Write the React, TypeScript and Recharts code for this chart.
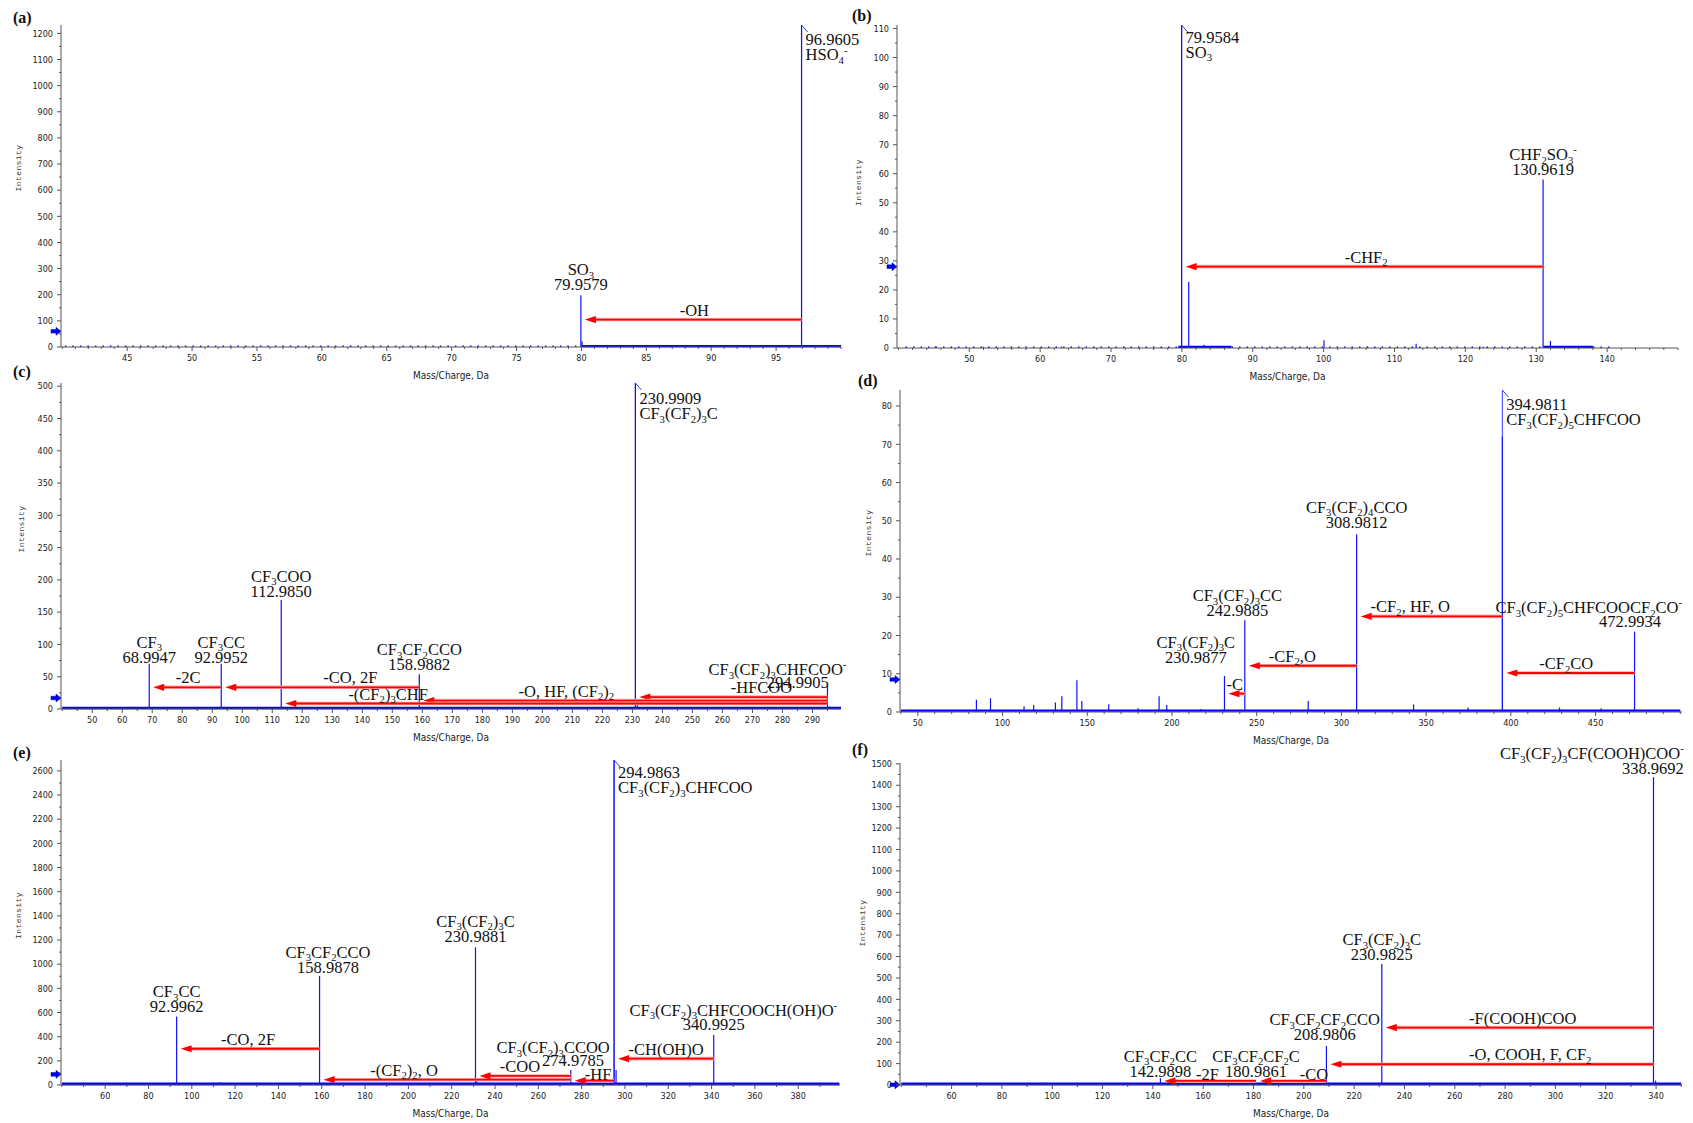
import React from 'react';
import { ComposedChart, ReferenceDot, ReferenceLine, Scatter, XAxis, YAxis } from 'recharts';

type Peak = { mz: number; i: number };
type Tag = { at: number; level: number; lines: string[]; align: 'start' | 'middle' | 'end' };
type Loss = { from: number; to: number; i: number; text: string; at: number; ly?: number };
type Band = { from: number; to: number; level: number; dotted?: boolean };

const BLUE = '#1010ff';
const RED = '#ff0000';
const AXIS = '#555555';
const INK = '#111111';
const SERIF = "'Liberation Serif', 'Times New Roman', serif";
const TICK_FONT = "'DejaVu Sans Condensed', 'Liberation Sans Narrow', 'DejaVu Sans', sans-serif";
const MONO = "'Liberation Mono', 'DejaVu Sans Mono', monospace";
const ANNO = 16.5;
const LINE_GAP = 15;

// (a) HSO4- precursor
const X_TICKS_A = [45, 50, 55, 60, 65, 70, 75, 80, 85, 90, 95];
const Y_TICKS_A = [0, 100, 200, 300, 400, 500, 600, 700, 800, 900, 1000, 1100, 1200];
const PEAKS_A: Peak[] = [
  { mz: 79.9579, i: 198 },
  { mz: 80.05, i: 22 },
  { mz: 96.9605, i: 1232 },
];
const BANDS_A: Band[] = [
  { from: 40.2, to: 80, level: 3, dotted: true },
  { from: 80, to: 100, level: 3 },
];
const TAGS_A: Tag[] = [
  { at: 79.9579, level: 274, lines: ['SO_3', '79.9579'], align: 'middle' },
  { at: 96.9605, level: 1154, lines: ['96.9605', 'HSO_4^-'], align: 'start' },
];
const LOSSES_A: Loss[] = [{ from: 96.9605, to: 79.9579, i: 105, text: '-OH', at: 88.7 }];

// (b) CHF2SO3- precursor
const X_TICKS_B = [50, 60, 70, 80, 90, 100, 110, 120, 130, 140];
const Y_TICKS_B = [0, 10, 20, 30, 40, 50, 60, 70, 80, 90, 100, 110];
const PEAKS_B: Peak[] = [
  { mz: 45.2, i: 0.6 },
  { mz: 52, i: 0.4 },
  { mz: 63, i: 0.5 },
  { mz: 79.9584, i: 111.2 },
  { mz: 80.96, i: 22.7 },
  { mz: 83.1, i: 1.1 },
  { mz: 100.05, i: 2.7 },
  { mz: 106.2, i: 0.5 },
  { mz: 113.05, i: 1.5 },
  { mz: 122.5, i: 0.4 },
  { mz: 130.9619, i: 58 },
  { mz: 132.0, i: 2.4 },
];
const BANDS_B: Band[] = [
  { from: 41, to: 79.5, level: 0.3, dotted: true },
  { from: 79.5, to: 87, level: 0.4 },
  { from: 87, to: 131, level: 0.3, dotted: true },
  { from: 131, to: 138, level: 0.4 },
  { from: 138, to: 141, level: 0.3, dotted: true },
];
const TAGS_B: Tag[] = [
  { at: 79.9584, level: 105.1, lines: ['79.9584', 'SO_3'], align: 'start' },
  { at: 130.9619, level: 64.7, lines: ['CHF_2SO_3^-', '130.9619'], align: 'middle' },
];
const LOSSES_B: Loss[] = [{ from: 130.9619, to: 79.9584, i: 28, text: '-CHF_2', at: 106 }];

// (c) CF3(CF2)3CHFCOO- precursor
const X_TICKS_C = [50, 60, 70, 80, 90, 100, 110, 120, 130, 140, 150, 160, 170, 180, 190, 200, 210, 220, 230, 240, 250, 260, 270, 280, 290];
const Y_TICKS_C = [0, 50, 100, 150, 200, 250, 300, 350, 400, 450, 500];
const PEAKS_C: Peak[] = [
  { mz: 63, i: 3.6 },
  { mz: 68.9947, i: 70 },
  { mz: 92.9952, i: 70 },
  { mz: 96.8, i: 2 },
  { mz: 112.985, i: 169 },
  { mz: 158.9882, i: 54 },
  { mz: 181, i: 3 },
  { mz: 230.9909, i: 505 },
  { mz: 231.6, i: 10 },
  { mz: 275.5, i: 2 },
  { mz: 294.9905, i: 36 },
  { mz: 295.8, i: 4 },
];
const BANDS_C: Band[] = [{ from: 40, to: 299.5, level: 1.5 }];
const TAGS_C: Tag[] = [
  { at: 68.9947, level: 95, lines: ['CF_3', '68.9947'], align: 'middle' },
  { at: 92.9952, level: 95, lines: ['CF_3CC', '92.9952'], align: 'middle' },
  { at: 112.985, level: 197, lines: ['CF_3COO', '112.9850'], align: 'middle' },
  { at: 158.9882, level: 83.7, lines: ['CF_3CF_2CCO', '158.9882'], align: 'middle' },
  { at: 230.9909, level: 472.4, lines: ['230.9909', 'CF_3(CF_2)_3C'], align: 'start' },
  { at: 254, level: 52.7, lines: ['CF_3(CF_2)_3CHFCOO^-'], align: 'start' },
  { at: 295.4, level: 32.6, lines: ['294.9905'], align: 'end' },
];
const LOSSES_C: Loss[] = [
  { from: 158.9882, to: 92.9952, i: 33.6, text: '-CO, 2F', at: 136 },
  { from: 92.9952, to: 68.9947, i: 33.6, text: '-2C', at: 82 },
  { from: 294.9905, to: 230.9909, i: 18.5, text: '-HFCOO', at: 273 },
  { from: 294.9905, to: 158.9882, i: 13, text: '-O, HF, (CF_2)_2', at: 208 },
  { from: 294.9905, to: 112.985, i: 8.5, text: '-(CF_2)_3CHF', at: 148.6 },
];

// (d) CF3(CF2)5CHFCOOCF2CO- precursor
const X_TICKS_D = [50, 100, 150, 200, 250, 300, 350, 400, 450];
const Y_TICKS_D = [0, 10, 20, 30, 40, 50, 60, 70, 80];
const PEAKS_D: Peak[] = [
  { mz: 84.6, i: 3.2 },
  { mz: 92.9, i: 3.6 },
  { mz: 112.7, i: 1.5 },
  { mz: 118.4, i: 1.8 },
  { mz: 131.2, i: 2.5 },
  { mz: 135, i: 4.1 },
  { mz: 143.9, i: 8.3 },
  { mz: 146.8, i: 2.9 },
  { mz: 162.7, i: 2 },
  { mz: 180, i: 1 },
  { mz: 192.4, i: 4.1 },
  { mz: 196.9, i: 1.8 },
  { mz: 217, i: 0.8 },
  { mz: 230.9877, i: 9.4 },
  { mz: 242.9885, i: 24 },
  { mz: 280.4, i: 2.9 },
  { mz: 308.9812, i: 46.5 },
  { mz: 342.6, i: 2 },
  { mz: 374.8, i: 1.2 },
  { mz: 394.9811, i: 72 },
  { mz: 428.7, i: 1.2 },
  { mz: 453.3, i: 1 },
  { mz: 472.9934, i: 21 },
];
const BANDS_D: Band[] = [{ from: 40, to: 500, level: 0.35 }];
const TAGS_D: Tag[] = [
  { at: 394.9811, level: 79, lines: ['394.9811', 'CF_3(CF_2)_5CHFCOO'], align: 'start' },
  { at: 308.9812, level: 52.1, lines: ['CF_3(CF_2)_4CCO', '308.9812'], align: 'middle' },
  { at: 238.6, level: 29, lines: ['CF_3(CF_2)_3CC', '242.9885'], align: 'middle' },
  { at: 214.1, level: 16.8, lines: ['CF_3(CF_2)_3C', '230.9877'], align: 'middle' },
  { at: 501, level: 25.9, lines: ['CF_3(CF_2)_5CHFCOOCF_2CO^-'], align: 'end' },
  { at: 470.3, level: 22.3, lines: ['472.9934'], align: 'middle' },
];
const LOSSES_D: Loss[] = [
  { from: 394.9811, to: 308.9812, i: 25, text: '-CF_2, HF, O', at: 340.6 },
  { from: 308.9812, to: 242.9885, i: 12.1, text: '-CF_2,O', at: 271 },
  { from: 242.9885, to: 230.9877, i: 4.8, text: '-C', at: 237 },
  { from: 472.9934, to: 394.9811, i: 10.2, text: '-CF_2CO', at: 432.7 },
];

// (e) CF3(CF2)3CHFCOOCH(OH)O- precursor
const X_TICKS_E = [60, 80, 100, 120, 140, 160, 180, 200, 220, 240, 260, 280, 300, 320, 340, 360, 380];
const Y_TICKS_E = [0, 200, 400, 600, 800, 1000, 1200, 1400, 1600, 1800, 2000, 2200, 2400, 2600];
const PEAKS_E: Peak[] = [
  { mz: 92.9962, i: 566 },
  { mz: 112.9, i: 22 },
  { mz: 158.9878, i: 903 },
  { mz: 180.9, i: 12 },
  { mz: 208.98, i: 12 },
  { mz: 230.9881, i: 1140 },
  { mz: 231.6, i: 40 },
  { mz: 274.9785, i: 124 },
  { mz: 294.9863, i: 2690 },
  { mz: 295.9, i: 125 },
  { mz: 340.9925, i: 414 },
];
const BANDS_E: Band[] = [{ from: 40, to: 399, level: 10 }];
const TAGS_E: Tag[] = [
  { at: 92.9962, level: 726, lines: ['CF_3CC', '92.9962'], align: 'middle' },
  { at: 162.9, level: 1053.6, lines: ['CF_3CF_2CCO', '158.9878'], align: 'middle' },
  { at: 230.9881, level: 1310, lines: ['CF_3(CF_2)_3C', '230.9881'], align: 'middle' },
  { at: 294.9863, level: 2538, lines: ['294.9863', 'CF_3(CF_2)_3CHFCOO'], align: 'start' },
  { at: 398, level: 573.6, lines: ['CF_3(CF_2)_3CHFCOOCH(OH)O^-'], align: 'end' },
  { at: 340.9925, level: 455, lines: ['340.9925'], align: 'middle' },
  { at: 293, level: 262, lines: ['CF_3(CF_2)_3CCOO'], align: 'end' },
  { at: 276, level: 157, lines: ['274.9785'], align: 'middle' },
];
const LOSSES_E: Loss[] = [
  { from: 158.9878, to: 92.9962, i: 300, text: '-CO, 2F', at: 126 },
  { from: 274.9785, to: 158.9878, i: 44, text: '-(CF_2)_2, O', at: 198 },
  { from: 274.9785, to: 230.9881, i: 75, text: '-COO', at: 251.5 },
  { from: 294.9863, to: 274.9785, i: 36, text: '-HF', at: 287.6, ly: 38 },
  { from: 340.9925, to: 294.9863, i: 218, text: '-CH(OH)O', at: 319 },
];

// (f) CF3(CF2)3CF(COOH)COO- precursor
const X_TICKS_F = [60, 80, 100, 120, 140, 160, 180, 200, 220, 240, 260, 280, 300, 320, 340];
const Y_TICKS_F = [0, 100, 200, 300, 400, 500, 600, 700, 800, 900, 1000, 1100, 1200, 1300, 1400, 1500];
const PEAKS_F: Peak[] = [
  { mz: 97, i: 10 },
  { mz: 142.9898, i: 31 },
  { mz: 180.9861, i: 9 },
  { mz: 208.9806, i: 182 },
  { mz: 217, i: 5 },
  { mz: 230.9825, i: 565 },
  { mz: 338.9692, i: 1437 },
  { mz: 339.8, i: 20 },
];
const BANDS_F: Band[] = [{ from: 40, to: 350, level: 5 }];
const TAGS_F: Tag[] = [
  { at: 142.9898, level: 108.8, lines: ['CF_3CF_2CC', '142.9898'], align: 'middle' },
  { at: 180.9861, level: 108.8, lines: ['CF_3CF_2CF_2C', '180.9861'], align: 'middle' },
  { at: 208.3, level: 280, lines: ['CF_3CF_2CF_2CCO', '208.9806'], align: 'middle' },
  { at: 230.9825, level: 654, lines: ['CF_3(CF_2)_3C', '230.9825'], align: 'middle' },
  { at: 351, level: 1523, lines: ['CF_3(CF_2)_3CF(COOH)COO^-', '338.9692'], align: 'end' },
];
const LOSSES_F: Loss[] = [
  { from: 338.9692, to: 230.9825, i: 268, text: '-F(COOH)COO', at: 287 },
  { from: 338.9692, to: 208.9806, i: 97, text: '-O, COOH, F, CF_2', at: 290 },
  { from: 208.9806, to: 180.9861, i: 19, text: '-CO', at: 204, ly: 24 },
  { from: 180.9861, to: 142.9898, i: 19, text: '-2F', at: 161.7, ly: 22 },
];

type PanelCfg = {
  name: string;
  left: number;
  top: number;
  width: number;
  height: number;
  mTop: number;
  mRight: number;
  yAxisW: number;
  xAxisH: number;
  xDomain: [number, number];
  yDomain: [number, number];
  xTicks: number[];
  xMinor: number;
  yTicks: number[];
  yMinor: number;
  peaks: Peak[];
  tags: Tag[];
  losses: Loss[];
  bands: Band[];
  precursor?: number;
  threshold: number;
  letter: [number, number];
  yTitle: [number, number];
  baseW: number;
};

const PANELS: PanelCfg[] = [
  {
    name: '(a)', left: 0, top: 0, width: 870, height: 385, mTop: 25, mRight: 29, yAxisW: 61, xAxisH: 38,
    xDomain: [39.9, 100], yDomain: [0, 1232], xTicks: X_TICKS_A, xMinor: 1, yTicks: Y_TICKS_A, yMinor: 50,
    peaks: PEAKS_A, tags: TAGS_A, losses: LOSSES_A, bands: BANDS_A, precursor: 96.9605, threshold: 60,
    letter: [13, 23], yTitle: [-43, -18], baseW: 2.2,
  },
  {
    name: '(b)', left: 846, top: 0, width: 847, height: 385, mTop: 25, mRight: 15, yAxisW: 51, xAxisH: 37,
    xDomain: [39.8, 150], yDomain: [0, 111.2], xTicks: X_TICKS_B, xMinor: 2, yTicks: Y_TICKS_B, yMinor: 5,
    peaks: PEAKS_B, tags: TAGS_B, losses: LOSSES_B, bands: BANDS_B, precursor: 79.9584, threshold: 28,
    letter: [852, 21], yTitle: [-39, -4], baseW: 2.2,
  },
  {
    name: '(c)', left: 0, top: 370, width: 870, height: 375, mTop: 13, mRight: 29, yAxisW: 61, xAxisH: 36,
    xDomain: [39.6, 299.5], yDomain: [0, 505], xTicks: X_TICKS_C, xMinor: 5, yTicks: Y_TICKS_C, yMinor: 25,
    peaks: PEAKS_C, tags: TAGS_C, losses: LOSSES_C, bands: BANDS_C, precursor: 230.9909, threshold: 17,
    letter: [13, 377], yTitle: [-40, -17], baseW: 2.6,
  },
  {
    name: '(d)', left: 846, top: 370, width: 847, height: 375, mTop: 20, mRight: 11, yAxisW: 54, xAxisH: 33,
    xDomain: [39.5, 501], yDomain: [0, 84.2], xTicks: X_TICKS_D, xMinor: 10, yTicks: Y_TICKS_D, yMinor: 5,
    peaks: PEAKS_D, tags: TAGS_D, losses: LOSSES_D, bands: BANDS_D, precursor: 394.9811, threshold: 8.5,
    letter: [858, 386], yTitle: [-32, -18], baseW: 2.2,
  },
  {
    name: '(e)', left: 0, top: 745, width: 870, height: 378, mTop: 15, mRight: 30, yAxisW: 61, xAxisH: 38,
    xDomain: [39.6, 399.3], yDomain: [0, 2690], xTicks: X_TICKS_E, xMinor: 10, yTicks: Y_TICKS_E, yMinor: 100,
    peaks: PEAKS_E, tags: TAGS_E, losses: LOSSES_E, bands: BANDS_E, precursor: 294.9863, threshold: 88,
    letter: [13, 758], yTitle: [-43, -7], baseW: 2.8,
  },
  {
    name: '(f)', left: 846, top: 730, width: 847, height: 393, mTop: 33, mRight: 11, yAxisW: 54, xAxisH: 38,
    xDomain: [39.5, 350.3], yDomain: [0, 1504], xTicks: X_TICKS_F, xMinor: 10, yTicks: Y_TICKS_F, yMinor: 50,
    peaks: PEAKS_F, tags: TAGS_F, losses: LOSSES_F, bands: BANDS_F, threshold: 1,
    letter: [852, 755], yTitle: [-38, -1], baseW: 2.8,
  },
];

// major ticks plus the small unlabelled ones in between
function withMinors(domain: [number, number], majors: number[], step: number) {
  const out: number[] = [];
  const start = Math.ceil(domain[0] / step) * step;
  for (let v = start; v <= domain[1] + 1e-9; v += step) out.push(Math.round(v * 1000) / 1000);
  majors.forEach((m) => { if (!out.includes(m)) out.push(m); });
  return out.sort((p, q) => p - q);
}

// "_x" -> subscript, "^x" -> superscript
function chem(s: string, size: number) {
  const runs: { kind: number; text: string }[] = [];
  for (let k = 0; k < s.length; k++) {
    let kind = 0;
    let ch = s[k];
    if ((ch === '_' || ch === '^') && k + 1 < s.length) {
      kind = ch === '_' ? 1 : 2;
      ch = s[++k];
    }
    const last = runs[runs.length - 1];
    if (last && last.kind === kind) last.text += ch;
    else runs.push({ kind, text: ch });
  }
  let cur = 0;
  return runs.map((r, k) => {
    const off = r.kind === 1 ? size * 0.22 : r.kind === 2 ? -size * 0.4 : 0;
    const dy = off - cur;
    cur = off;
    return (
      <tspan key={k} dy={dy} fontSize={r.kind ? size * 0.65 : size}>
        {r.text}
      </tspan>
    );
  });
}

function XTick(props: any) {
  const { x, y, payload, majors } = props;
  const major = majors.includes(payload.value);
  return (
    <g>
      <line x1={x} x2={x} y1={y} y2={y + (major ? 4 : 2)} stroke={AXIS} />
      {major && (
        <text x={x} y={y + 14} textAnchor="middle" fontFamily={TICK_FONT} fontSize={9} fill="#222">
          {payload.value}
        </text>
      )}
    </g>
  );
}

function YTick(props: any) {
  const { x, y, payload, majors } = props;
  const major = majors.includes(payload.value);
  return (
    <g>
      <line x1={x - (major ? 4 : 2)} x2={x} y1={y} y2={y} stroke={AXIS} />
      {major && (
        <text x={x - 8} y={y + 3.2} textAnchor="end" fontFamily={TICK_FONT} fontSize={9} fill="#222">
          {payload.value}
        </text>
      )}
    </g>
  );
}

function TagText({ cx, cy, tag }: { cx: number; cy: number; tag: Tag }) {
  const x = tag.align === 'start' ? cx + 4 : cx;
  return (
    <g>
      {tag.lines.map((line, k) => (
        <text key={k} x={x} y={cy + k * LINE_GAP} textAnchor={tag.align} fontFamily={SERIF} fontSize={ANNO} fill={INK}>
          {chem(line, ANNO)}
        </text>
      ))}
    </g>
  );
}

function LossArrow(props: any) {
  const { x1, x2, y1, loss, ly } = props;
  const tip = x2 + 4;
  const head = 11;
  const lx = x1 + ((loss.at - loss.from) / (loss.to - loss.from)) * (x2 - x1);
  return (
    <g>
      <line x1={x1} x2={tip + head - 1} y1={y1} y2={y1} stroke="#ffa8a8" strokeWidth={3.6} />
      <line x1={x1} x2={tip + head - 1} y1={y1} y2={y1} stroke={RED} strokeWidth={1.8} />
      <polygon points={`${tip},${y1} ${tip + head},${y1 - 3.6} ${tip + head},${y1 + 3.6}`} fill={RED} />
      <text x={lx} y={ly ?? y1 - 4} textAnchor="middle" fontFamily={SERIF} fontSize={ANNO} fill={INK}>
        {chem(loss.text, ANNO)}
      </text>
    </g>
  );
}

function Spectrum({ cfg }: { cfg: PanelCfg }) {
  const xTicks = withMinors(cfg.xDomain, cfg.xTicks, cfg.xMinor);
  const yTicks = withMinors(cfg.yDomain, cfg.yTicks, cfg.yMinor);
  const yTop = cfg.yDomain[1];
  const plotH = cfg.height - cfg.mTop - cfg.xAxisH;
  const pxPerUnit = plotH / (cfg.yDomain[1] - cfg.yDomain[0]);

  return (
    <div style={{ position: 'absolute', left: cfg.left, top: cfg.top }}>
      <ComposedChart
        width={cfg.width}
        height={cfg.height}
        margin={{ top: cfg.mTop, right: cfg.mRight, bottom: 0, left: 0 }}
      >
        <XAxis
          type="number"
          dataKey="mz"
          domain={cfg.xDomain}
          allowDataOverflow
          ticks={xTicks}
          interval={0}
          tickSize={0}
          tickMargin={0}
          tickLine={false}
          axisLine={{ stroke: AXIS }}
          height={cfg.xAxisH}
          tick={(p: any) => <XTick {...p} majors={cfg.xTicks} />}
        />
        <YAxis
          type="number"
          dataKey="i"
          domain={cfg.yDomain}
          allowDataOverflow
          ticks={yTicks}
          interval={0}
          tickSize={0}
          tickMargin={0}
          tickLine={false}
          axisLine={{ stroke: AXIS }}
          width={cfg.yAxisW}
          tick={(p: any) => <YTick {...p} majors={cfg.yTicks} />}
        />

        {cfg.bands.map((b, k) => (
          <ReferenceLine
            key={`band-${k}`}
            segment={[{ x: b.from, y: b.level }, { x: b.to, y: b.level }]}
            stroke="#0000ff"
            strokeWidth={b.dotted ? 1.5 : cfg.baseW}
            strokeDasharray={b.dotted ? '1.5 6' : undefined}
            ifOverflow="visible"
          />
        ))}

        {cfg.precursor !== undefined && (
          <ReferenceLine
            segment={[{ x: cfg.precursor, y: 0 }, { x: cfg.precursor, y: yTop }]}
            stroke="#3a3aff"
            strokeWidth={1}
            ifOverflow="visible"
          />
        )}
        {cfg.precursor !== undefined && (
          <ReferenceDot
            x={cfg.precursor}
            y={yTop}
            r={0}
            ifOverflow="visible"
            shape={(p: any) => <line x1={p.cx} y1={p.cy} x2={p.cx + 6} y2={p.cy + 7} stroke="#3a3aff" strokeWidth={1} />}
          />
        )}

        {cfg.peaks.map((pk, k) => (
          <ReferenceLine
            key={`pk-${k}`}
            segment={[{ x: pk.mz, y: 0 }, { x: pk.mz, y: pk.i }]}
            stroke={BLUE}
            strokeWidth={1.2}
            ifOverflow="visible"
          />
        ))}

        {cfg.losses.map((l, k) => (
          <ReferenceLine
            key={`loss-${k}`}
            segment={[{ x: l.from, y: l.i }, { x: l.to, y: l.i }]}
            ifOverflow="visible"
            shape={(p: any) => (
              <LossArrow
                {...p}
                loss={l}
                ly={l.ly === undefined ? undefined : p.y1 - (l.ly - l.i) * pxPerUnit}
              />
            )}
          />
        ))}

        {cfg.tags.map((t, k) => (
          <ReferenceDot
            key={`tag-${k}`}
            x={t.at}
            y={t.level}
            r={0}
            ifOverflow="visible"
            shape={(p: any) => <TagText cx={p.cx} cy={p.cy} tag={t} />}
          />
        ))}

        <ReferenceDot
          x={cfg.xDomain[0]}
          y={cfg.threshold}
          r={0}
          ifOverflow="visible"
          shape={(p: any) => (
            <path
              d={`M${p.cx - 10},${p.cy - 1.8} L${p.cx - 5},${p.cy - 1.8} L${p.cx - 5},${p.cy - 4} L${p.cx},${p.cy} L${p.cx - 5},${p.cy + 4} L${p.cx - 5},${p.cy + 1.8} L${p.cx - 10},${p.cy + 1.8} Z`}
              fill="#0000ff"
              stroke="#00008b"
              strokeWidth={0.5}
            />
          )}
        />

        <Scatter data={cfg.peaks} dataKey="i" shape={() => <g />} isAnimationActive={false} />
      </ComposedChart>
    </div>
  );
}

function Titles() {
  return (
    <svg
      width={1693}
      height={1123}
      style={{ position: 'absolute', left: 0, top: 0, pointerEvents: 'none' }}
    >
      {PANELS.map((p) => {
        const plotL = p.left + p.yAxisW;
        const plotR = p.left + p.width - p.mRight;
        const plotT = p.top + p.mTop;
        const plotB = p.top + p.height - p.xAxisH;
        const yx = plotL + p.yTitle[0];
        const yy = (plotT + plotB) / 2 + p.yTitle[1];
        return (
          <g key={p.name}>
            <text x={p.letter[0]} y={p.letter[1]} fontFamily={SERIF} fontWeight="bold" fontSize={16} fill={INK}>
              {p.name}
            </text>
            <text x={(plotL + plotR) / 2} y={plotB + 32} textAnchor="middle" fontFamily={TICK_FONT} fontSize={10} fill="#222">
              Mass/Charge, Da
            </text>
            <text
              x={yx}
              y={yy}
              transform={`rotate(-90 ${yx} ${yy})`}
              textAnchor="middle"
              dominantBaseline="central"
              fontFamily={MONO}
              fontSize={8}
              letterSpacing={0.4}
              fill="#333"
            >
              Intensity
            </text>
          </g>
        );
      })}
    </svg>
  );
}

export default function App() {
  return (
    <div style={{ position: 'absolute', left: 0, top: 0, width: 1693, height: 1123, background: '#ffffff', overflow: 'hidden' }}>
      {PANELS.map((p) => (
        <Spectrum key={p.name} cfg={p} />
      ))}
      <Titles />
    </div>
  );
}
